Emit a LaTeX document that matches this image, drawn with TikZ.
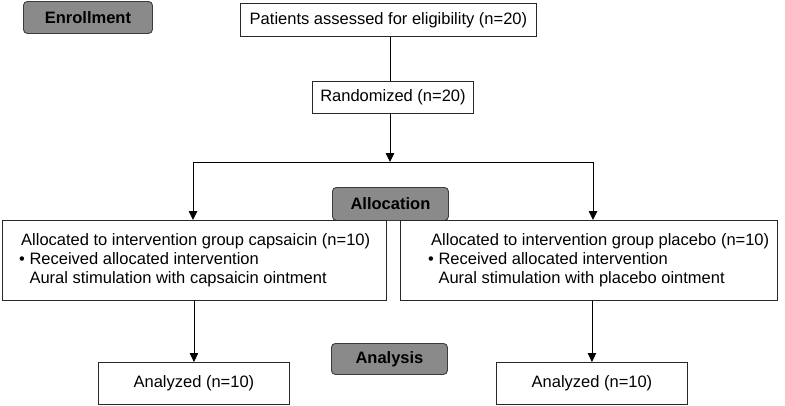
\documentclass[tikz,border=0pt]{standalone}
\usepackage{fontspec}
\setmainfont{Liberation Sans}
\usetikzlibrary{arrows.meta}
\definecolor{stagefill}{RGB}{138,138,138}
\definecolor{stageline}{RGB}{60,60,60}
\definecolor{boxline}{RGB}{40,40,40}
\begin{document}
\begin{tikzpicture}[x=1pt,y=-1pt,
  font=\fontsize{16.5}{19}\selectfont,
  wbox/.style={draw=boxline,line width=0.9pt,fill=white,inner sep=0pt,anchor=north west},
  stage/.style={draw=stageline,line width=0.9pt,fill=stagefill,rounded corners=4pt,inner sep=0pt,anchor=north west,font=\fontsize{16.5}{19}\selectfont\bfseries},
  txt/.style={inner sep=0pt,align=left,anchor=west},
  conn/.style={line width=0.9pt,draw=black},
  arr/.style={conn,-{Triangle[length=9pt,width=8.5pt]}}]
\useasboundingbox (0,0) rectangle (785,405);
% stage labels
\node[stage,minimum width=129pt,minimum height=32pt] (enr) at (23,1) {Enrollment};
\node[stage,minimum width=116pt,minimum height=33pt] (alloc) at (332,187) {Allocation};
\node[stage,minimum width=116pt,minimum height=31pt] (anal) at (331,343) {Analysis};
% boxes
\node[wbox,minimum width=296pt,minimum height=33pt] (elig) at (240,3) {Patients assessed for eligibility (n=20)};
\node[wbox,minimum width=161pt,minimum height=32pt] (rand) at (312,81) {Randomized (n=20)};
\coordinate (split) at (390,162);
\coordinate (sl) at (193,162);
\coordinate (sr) at (593,162);
\node[wbox,minimum width=384pt,minimum height=80pt] (lbox) at (2,220) {};
\node[wbox,minimum width=377pt,minimum height=80pt] (rbox) at (400,220) {};
\node[txt] (ltxt) at (19,260) {\hspace*{2pt}Allocated to intervention group capsaicin (n=10)\\
\textbullet\ Received allocated intervention\\
\phantom{\textbullet\ }Aural stimulation with capsaicin ointment};
\node[txt] (rtxt) at (428,260) {\hspace*{3pt}Allocated to intervention group placebo (n=10)\\
\textbullet\ Received allocated intervention\\
\phantom{\textbullet\ }Aural stimulation with placebo ointment};
\node[wbox,minimum width=191pt,minimum height=42pt] (lan) at (98,362) {Analyzed (n=10)};
\node[wbox,minimum width=191pt,minimum height=42pt] (ran) at (496,362) {Analyzed (n=10)};
% connectors
\draw[conn] (elig.south -| split) -- (rand.north -| split);
\draw[arr] (rand.south -| split) -- (split);
\draw[conn] (sl) -- (sr);
\draw[arr] (sl) -- (sl |- lbox.north);
\draw[arr] (sr) -- (sr |- rbox.north);
\draw[arr] (lbox.south -| lan.north) -- (lan.north);
\draw[arr] (rbox.south -| ran.north) -- (ran.north);
\end{tikzpicture}
\end{document}
